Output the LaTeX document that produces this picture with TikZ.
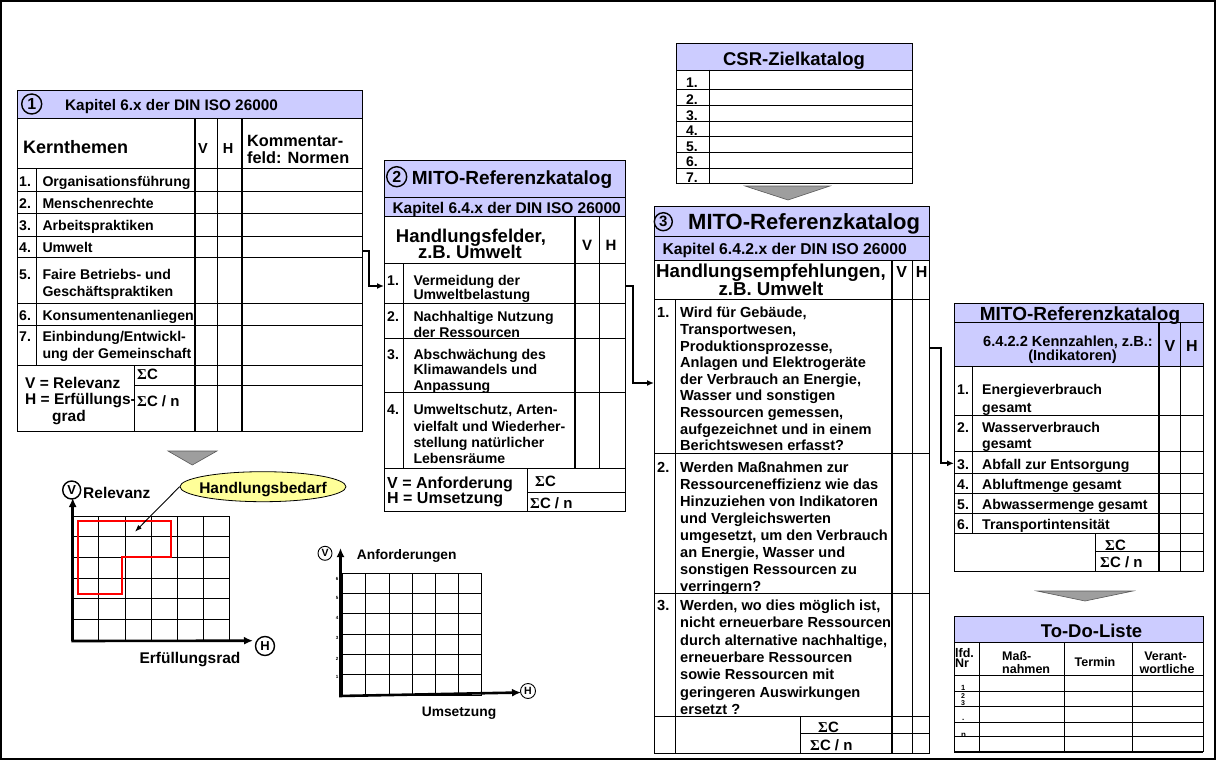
\documentclass[tikz,border=0pt]{standalone}
\usepackage{fontspec}
\setmainfont{Liberation Sans}
\newfontfamily\serifsym{Liberation Serif}
\usetikzlibrary{arrows.meta,shapes.geometric}
\definecolor{lav}{RGB}{204,204,255}
\definecolor{trifill}{RGB}{158,158,158}
\definecolor{yel}{RGB}{255,255,153}
\newcommand\fsz[1]{\fontsize{#1}{#1}\selectfont\bfseries}
\newcommand\SCx{{\serifsym Σ}C}
\begin{document}
\begin{tikzpicture}[x=1pt,y=-1pt,
  ln/.style={line width=0.9pt,draw=black},
  tk/.style={line width=2.2pt,draw=black},
  tl/.style={anchor=mid west,inner sep=0pt},
  tm/.style={anchor=mid,inner sep=0pt},
  fs/.style={font=\fsz{#1},yshift={-0.25*#1*1pt}},
  body/.style={tl,fs=14.1},
  bthree/.style={tl,fs=14.6},
  cnum/.style={circle,draw,line width=1.4pt,inner sep=0pt},
  conn/.style={line width=2.3pt,-{Latex[length=7pt,width=6pt]}},
  axarr/.style={line width=2.6pt,-{Latex[length=9pt,width=8pt]}},
  tri/.style={fill=trifill,draw=gray!70!black,line width=0.6pt},
  gline/.style={line width=0.8pt,draw=black}]
\useasboundingbox (0,0) rectangle (1216,760);
\draw[line width=2pt] (1,1) rectangle (1215,759);

% ================= Table 1 =================
\fill[lav] (17,90) rectangle (362,118);
\draw[ln] (17,90) rectangle (362,431.7);
\draw[ln] (17,118) -- (362,118);
\draw[ln] (17,168.3) -- (362,168.3);
\foreach \y in {191.7,213.3,236,257.3,303.3,325,365} \draw[ln] (17,\y) -- (362,\y);
\draw[ln] (36.7,168.3) -- (36.7,365);
\draw[tk] (195,118) -- (195,431.7);
\draw[ln] (217.3,118) -- (217.3,431.7);
\draw[tk] (242.3,118) -- (242.3,431.7);
\draw[ln] (134,365) -- (134,431.7);
\draw[ln] (134,385) -- (362,385);

\node[cnum,minimum size=20pt,font=\fsz{16}] (n1c) at (31.7,104) {1};
\node[tl,fs=15.3] (t1hd) at (65,104) {Kapitel 6.x der DIN ISO 26000};
\node[tl,fs=18] (t1k) at (23,146.7) {Kernthemen};
\node[tm,fs=14.5] (t1v) at (203,147) {V};
\node[tm,fs=14.5] (t1h) at (228,147) {H};
\node[tl,fs=16.3] (t1c1) at (247,140) {Kommentar-};
\node[tl,fs=16.3] (t1c2) at (247,156.7) {feld: Normen};
\node[body] (t1n1) at (19,180) {1.};
\node[body] (t1i1) at (42.3,180) {Organisationsführung};
\node[body] (t1n2) at (19,202.5) {2.};
\node[body] (t1i2) at (42.3,202.5) {Menschenrechte};
\node[body] (t1n3) at (19,224.7) {3.};
\node[body] (t1i3) at (42.3,224.7) {Arbeitspraktiken};
\node[body] (t1n4) at (19,246.7) {4.};
\node[body] (t1i4) at (42.3,246.7) {Umwelt};
\node[body] (t1n5) at (19,273.3) {5.};
\node[body] (t1i5a) at (42.3,273.3) {Faire Betriebs- und};
\node[body] (t1i5b) at (42.3,290) {Geschäftspraktiken};
\node[body] (t1n6) at (19,314) {6.};
\node[body] (t1i6) at (42.3,314) {Konsumentenanliegen};
\node[body] (t1n7) at (19,335) {7.};
\node[body] (t1i7a) at (42.3,335) {Einbindung/Entwickl-};
\node[body] (t1i7b) at (42.3,352.5) {ung der Gemeinschaft};
\node[tl,fs=15.5] (t1s1) at (25,381.7) {V = Relevanz};
\node[tl,fs=15.5] (t1s2) at (25,398) {H = Erfüllungs-};
\node[tl,fs=15.5] (t1s3) at (52,415) {grad};
\node[tl,fs=15] (t1s4) at (137,373) {\SCx};
\node[tl,fs=15] (t1s5) at (137,400) {\SCx{} / n};

% connector 1
\coordinate (a1s) at (362,251);
\coordinate (a1e) at (384,286);
\draw[conn] (a1s) -- ++(7,0) |- (a1e);

% ================= Table 2 =================
\fill[lav] (384,160) rectangle (625,216.7);
\draw[ln] (384,160) rectangle (625,511.7);
\draw[ln] (384,197) -- (625,197);
\draw[ln] (384,216.7) -- (625,216.7);
\draw[ln] (384,263.3) -- (625,263.3);
\foreach \y in {303.3,338.3,392.7,468.3} \draw[ln] (384,\y) -- (625,\y);
\draw[ln] (403.3,263.3) -- (403.3,468.3);
\draw[tk] (575,216.7) -- (575,468.3);
\draw[ln] (599.3,216.7) -- (599.3,468.3);
\draw[ln] (527.3,468.3) -- (527.3,511.7);
\draw[ln] (527.3,492.7) -- (625,492.7);

\node[cnum,minimum size=20pt,font=\fsz{16}] (n2c) at (396.7,176.7) {2};
\node[tl,fs=19] (t2h1) at (411.7,176.7) {MITO-Referenzkatalog};
\node[tm,fs=15.5] (t2h2) at (506.7,206.7) {Kapitel 6.4.x der DIN ISO 26000};
\node[tm,fs=18.5] (t2k1) at (471,235) {Handlungsfelder,};
\node[tm,fs=18.5] (t2k2) at (470,251.7) {z.B. Umwelt};
\node[tm,fs=15] (t2v) at (587,244) {V};
\node[tm,fs=15] (t2h) at (611,244) {H};
\node[body] (t2n1) at (387,279) {1.};
\node[body] (t2a0) at (413.3,279) {Vermeidung der};
\node[body] (t2a1) at (413.3,293) {Umweltbelastung};
\node[body] (t2n2) at (387,315) {2.};
\node[body] (t2b0) at (413.3,315) {Nachhaltige Nutzung};
\node[body] (t2b1) at (413.3,331.7) {der Ressourcen};
\node[body] (t2n3) at (387,353) {3.};
\node[body] (t2c0) at (413.3,353) {Abschwächung des};
\node[body] (t2c1) at (413.3,368.5) {Klimawandels und};
\node[body] (t2c2) at (413.3,384) {Anpassung};
\node[body] (t2n4) at (387,408.3) {4.};
\node[body] (t2d0) at (413.3,408.3) {Umweltschutz, Arten-};
\node[body] (t2d1) at (413.3,425) {vielfalt und Wiederher-};
\node[body] (t2d2) at (413.3,441.7) {stellung natürlicher};
\node[body] (t2d3) at (413.3,457.5) {Lebensräume};
\node[tl,fs=16] (t2s1) at (387,481.7) {V = Anforderung};
\node[tl,fs=16] (t2s2) at (387,496.7) {H = Umsetzung};
\node[tl,fs=15] (t2s3) at (535,480) {\SCx};
\node[tl,fs=15] (t2s4) at (530,501.7) {\SCx{} / n};

% connector 2
\coordinate (a2s) at (625,285.7);
\coordinate (a2e) at (654,383);
\draw[conn] (a2s) -- ++(8,0) |- (a2e);

% ================= CSR-Zielkatalog =================
\fill[lav] (676,43.3) rectangle (912.7,70);
\draw[ln] (676,43.3) rectangle (912.7,183.3);
\draw[ln] (676,70) -- (912.7,70);
\foreach \y in {89.3,105.7,121,136.7,152.7,168.3} \draw[ln] (676,\y) -- (912.7,\y);
\draw[ln] (709.3,70) -- (709.3,183.3);
\node[tm,fs=18.5] (csrh) at (794,58.3) {CSR-Zielkatalog};
\foreach \n/\yy in {1/81.7,2/98.3,3/114,4/129.3,5/145,6/160.7,7/176.7}
  \node[tl,fs=14] (csr\n) at (686,\yy) {\n.};
\path[tri] (745,186) -- (830,186) -- (788,200) -- cycle;

% ================= Table 3 =================
\fill[lav] (654,206) rectangle (929.3,260);
\draw[ln] (654,206) rectangle (929.3,753.3);
\draw[ln] (654,236.7) -- (929.3,236.7);
\draw[ln] (654,260) -- (929.3,260);
\draw[ln] (654,299) -- (929.3,299);
\foreach \y in {453.3,593.3,716.7} \draw[ln] (654,\y) -- (929.3,\y);
\draw[ln] (675.7,299) -- (675.7,753.3);
\draw[tk] (891.7,260) -- (891.7,753.3);
\draw[ln] (912.7,260) -- (912.7,753.3);
\draw[ln] (800,716.7) -- (800,753.3);
\draw[ln] (800,733.3) -- (929.3,733.3);

\node[cnum,minimum size=18pt,font=\fsz{15}] (n3c) at (663.3,221.7) {3};
\node[tl,fs=22] (t3h1) at (688,221.7) {MITO-Referenzkatalog};
\node[tm,fs=15.7] (t3h2) at (784.7,248.3) {Kapitel 6.4.2.x der DIN ISO 26000};
\node[tm,fs=18.7] (t3k1) at (771,270) {Handlungsempfehlungen,};
\node[tm,fs=18.7] (t3k2) at (771,288.3) {z.B. Umwelt};
\node[tm,fs=16] (t3v) at (901.7,270.7) {V};
\node[tm,fs=16] (t3h) at (921.7,270.7) {H};
\node[bthree] (t3n1) at (657,311.7) {1.};
\foreach \t [count=\i from 0] in {{Wird für Gebäude,},{Transportwesen,},{Produktionsprozesse,},{Anlagen und Elektrogeräte},{der Verbrauch an Energie,},{Wasser und sonstigen},{Ressourcen gemessen,},{aufgezeichnet und in einem},{Berichtswesen erfasst?}}
  \node[bthree] (t3a\i) at (680,{311.7+16.6*\i}) {\t};
\node[bthree] (t3n2) at (657,466) {2.};
\foreach \t [count=\i from 0] in {{Werden Maßnahmen zur},{Ressourceneffizienz wie das},{Hinzuziehen von Indikatoren},{und Vergleichswerten},{umgesetzt, um den Verbrauch},{an Energie, Wasser und},{sonstigen Ressourcen zu},{verringern?}}
  \node[bthree] (t3b\i) at (680,{466+17.1*\i}) {\t};
\node[bthree] (t3n3) at (657,604.3) {3.};
\foreach \t [count=\i from 0] in {{Werden, wo dies möglich ist,},{nicht erneuerbare Ressourcen},{durch alternative nachhaltige,},{erneuerbare Ressourcen},{sowie Ressourcen mit},{geringeren Auswirkungen},{ersetzt ?}}
  \node[bthree] (t3c\i) at (680,{604.3+17.3*\i}) {\t};
\node[tl,fs=15] (t3s1) at (818,726) {\SCx};
\node[tl,fs=15] (t3s2) at (810,744) {\SCx{} / n};

% connector 3
\coordinate (a3s) at (929.3,348.3);
\coordinate (a3e) at (954,463.3);
\draw[conn] (a3s) -- ++(12,0) |- (a3e);

% ================= Table 4 =================
\fill[lav] (954,303.3) rectangle (1203,366.7);
\draw[ln] (954,303.3) rectangle (1203,571.7);
\draw[ln] (954,322.7) -- (1203,322.7);
\draw[ln] (954,366.7) -- (1203,366.7);
\foreach \y in {415,451.7,473.3,493.3,513.3,533.3} \draw[ln] (954,\y) -- (1203,\y);
\draw[ln] (972.7,366.7) -- (972.7,533.3);
\draw[tk] (1159,322.7) -- (1159,571.7);
\draw[ln] (1180,322.7) -- (1180,571.7);
\draw[ln] (1095,533.3) -- (1095,571.7);
\draw[ln] (1095,551.7) -- (1203,551.7);

\node[tm,fs=19] (t4h1) at (1080,313.3) {MITO-Referenzkatalog};
\node[tm,fs=14.6] (t4h2) at (1068,340) {6.4.2.2 Kennzahlen, z.B.:};
\node[tm,fs=14.6] (t4h3) at (1072.5,354) {(Indikatoren)};
\node[tm,fs=16] (t4v) at (1170,345) {V};
\node[tm,fs=16] (t4h) at (1192,345) {H};
\node[body] (t4n1) at (957,388.3) {1.};
\node[body] (t4a0) at (982,388.3) {Energieverbrauch};
\node[body] (t4a1) at (982,406) {gesamt};
\node[body] (t4n2) at (957,426) {2.};
\node[body] (t4b0) at (982,426) {Wasserverbrauch};
\node[body] (t4b1) at (982,442.7) {gesamt};
\node[body] (t4n3) at (957,463.3) {3.};
\node[body] (t4c0) at (982,463.3) {Abfall zur Entsorgung};
\node[body] (t4n4) at (957,483) {4.};
\node[body] (t4d0) at (982,483) {Abluftmenge gesamt};
\node[body] (t4n5) at (957,503.3) {5.};
\node[body] (t4e0) at (982,503.3) {Abwassermenge gesamt};
\node[body] (t4n6) at (957,523) {6.};
\node[body] (t4f0) at (982,523) {Transportintensität};
\node[tl,fs=15] (t4s1) at (1105,544) {\SCx};
\node[tl,fs=15] (t4s2) at (1100,561) {\SCx{} / n};
\path[tri] (1037,591) -- (1133,591) -- (1085,601) -- cycle;

% ================= To-Do-Liste =================
\fill[lav] (954,616) rectangle (1203,642.7);
\draw[ln] (954,616) rectangle (1203,751.7);
\draw[line width=1.6pt] (954,751.7) -- (1203,751.7);
\draw[ln] (954,642.7) -- (1203,642.7);
\foreach \y in {675,691.7,706.7,722.7,736.7} \draw[ln] (954,\y) -- (1203,\y);
\foreach \x in {979.3,1064,1132.7} \draw[ln] (\x,642.7) -- (\x,751.7);
\node[tm,fs=18.5] (tdh) at (1091.5,630) {To-Do-Liste};
\node[tl,fs=12.5] (tdl1) at (955,651.7) {lfd.};
\node[tl,fs=12.5] (tdl2) at (955,662) {Nr};
\node[tl,fs=12.5] (tdm1) at (1002,655) {Maß-};
\node[tl,fs=12.5] (tdm2) at (1002,667.3) {nahmen};
\node[tm,fs=12.5] (tdt) at (1095,660.7) {Termin};
\node[tm,fs=12.5] (tdv1) at (1165.5,655) {Verant-};
\node[tm,fs=12.5] (tdv2) at (1167,667.3) {wortliche};
\node[tl,fs=7.5] (tdn1) at (961,685.5) {1};
\node[tl,fs=7] (tdn2) at (961,694) {2};
\node[tl,fs=7] (tdn3) at (961,701.5) {3};
\node[tl,fs=8] (tdn4) at (962,716) {.};
\node[tl,fs=8] (tdn5) at (961,732.7) {n};

% ================= Chart 1 =================
\path[tri] (168,451) -- (217,451) -- (192.3,465) -- cycle;
\foreach \i in {0,...,6} \draw[gline] ({72.7+26.1*\i},516) -- ({72.7+26.1*\i},640);
\foreach \j in {0,...,6} \draw[gline] (72.7,{516+20.67*\j}) -- (229.3,{516+20.67*\j});
\draw[red,line width=2.2pt] (78.3,521) -- (170.7,521) -- (170.7,556.7) -- (121.7,556.7) -- (121.7,594.3) -- (78.3,594.3) -- cycle;
\node[cnum,minimum size=18pt,font=\fsz{13}] (cv1) at (71.7,490) {V};
\node[cnum,minimum size=19pt,font=\fsz{13}] (ch1) at (265,646) {H};
\coordinate (ax1o) at (72.7,641);
\coordinate (ax1y) at (72.7,498);
\coordinate (ax1x) at (253,640.7);
\draw[axarr] (ax1o) -- (ax1y);
\draw[axarr] ([xshift=-1.3pt]ax1o) -- (ax1x);
\node[tl,fs=15.5] (rel) at (83,491.7) {Relevanz};
\node[tm,fs=15.5] (erf) at (190,657.3) {Erfüllungsrad};
\node[ellipse,draw,line width=0.8pt,fill=yel,minimum width=166pt,minimum height=30pt,inner sep=0pt] (hb) at (263,486.7) {};
\node[tm,fs=15.5] (hbt) at (263,486.7) {Handlungsbedarf};
\coordinate (cb) at (135,531.7);
\draw[line width=0.9pt,-{Latex[length=7pt,width=5pt]}] (hb.west) -- (cb);

% ================= Chart 2 =================
\foreach \i in {0,...,6} \draw[gline] ({342.7+23.17*\i},573.3) -- ({342.7+23.17*\i},695);
\foreach \j in {0,...,6} \draw[gline] (342.7,{573.3+20.28*\j}) -- (481.7,{573.3+20.28*\j});
\coordinate (ax2o) at (340.5,696);
\coordinate (ax2y) at (340.5,548);
\coordinate (ax2x) at (521,692.5);
\draw[axarr] (ax2o) -- (ax2y);
\draw[axarr] ([xshift=-1.3pt]ax2o) -- (ax2x);
\node[cnum,minimum size=14pt,line width=0.9pt,font=\fsz{10.5}] (cv2) at (325,553.3) {V};
\node[cnum,minimum size=15pt,line width=0.9pt,font=\fsz{10.5}] (ch2) at (528,691) {H};
\node[tl,fs=13.8] (anf) at (356.7,553.3) {Anforderungen};
\node[tm,fs=13.8] (ums) at (459,710) {Umsetzung};
\foreach \n/\yy in {1/675,2/656.7,3/636,4/616,5/595.3,6/576.7}
  \node[tm,fs=4.5] (tick\n) at (337,\yy) {\n};
\end{tikzpicture}
\end{document}
